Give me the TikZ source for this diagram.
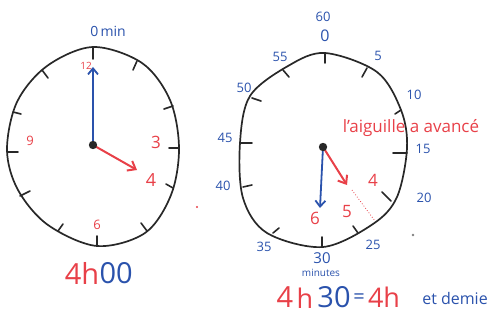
\documentclass[tikz,border=0pt]{standalone}
\usepackage{fontspec}
\setmainfont{Open Sans}
\usetikzlibrary{arrows.meta}
\definecolor{pred}{RGB}{232,64,72}
\definecolor{pblue}{RGB}{42,82,172}
\definecolor{pblack}{RGB}{40,40,40}
\tikzset{
  rim/.style={pblack,line width=1.7pt,line cap=round},
  tick/.style={pblack,line width=1.6pt,line cap=round},
  rlab/.style={text=pred,inner sep=0pt,font=\fontsize{15}{15}\selectfont},
  blab/.style={text=pblue,inner sep=0pt,font=\fontsize{13}{13}\selectfont},
  bluehand/.style={pblue,line width=1.8pt,-{Straight Barb[length=6pt,width=10pt]}},
  redhand/.style={pred,line width=2pt,-{Straight Barb[length=7pt,width=11pt]}},
}
\begin{document}
\begin{tikzpicture}[x=1pt,y=-1pt]
\useasboundingbox (0,0) rectangle (494,320);
% ---------- left clock ----------
\draw[rim] plot[smooth cycle,tension=0.55] coordinates {(93,47) (142,63) (170,100) (179,148) (171,195) (145,233) (97,246) (48,225) (18,190) (7,150) (17,102) (47,66)};
\foreach \a/\b in {{(93,47)}/{(93,59)},{(137,61)}/{(133,70)},{(173,106)}/{(164,109)},{(179,148)}/{(169,148)},{(173,188)}/{(166,184)},{(147,231)}/{(141,223)},{(97,246)}/{(97,236)},{(58,231)}/{(63,224)},{(20,196)}/{(30,191)},{(7,152)}/{(18,152)},{(13,112)}/{(21,114)},{(42,70)}/{(48,78)}}
  \draw[tick] \a -- \b;
\coordinate (c1) at (93,145);
\coordinate (m1) at (93,67);
\coordinate (h1) at (137,170);
\draw[bluehand] (c1) -- (m1);
\draw[redhand] (c1) -- (h1);
\fill[pblack] (c1) circle (4.2);
\node[rlab,font=\fontsize{10}{10}\selectfont] (n12) at (86,66) {12};
\node[rlab,font=\fontsize{17}{17}\selectfont] (n3) at (156,142) {3};
\node[rlab,font=\fontsize{18}{18}\selectfont] (n4) at (151,180) {4};
\node[rlab,font=\fontsize{13}{13}\selectfont] (n6) at (97,225) {6};
\node[rlab,font=\fontsize{13}{13}\selectfont] (n9) at (30,141) {9};
\node[blab,font=\fontsize{14}{14}\selectfont] (omin) at (108,31) {0\,min};
\node[text=pred,inner sep=0pt,font=\fontsize{29}{29}\selectfont] (h4) at (82,273) {4h};
\node[text=pblue,inner sep=0pt,font=\fontsize{29}{29}\selectfont,anchor=west] (z00) at (h4.east) {00};
\fill[pred] (197,207) circle (1.2);
% ---------- right clock ----------
\draw[rim] plot[smooth cycle,tension=0.55] coordinates {(325,53) (377,72) (401,110) (407,148) (397,197) (373,224) (323,247) (267,233) (243,198) (240,143) (250,96) (288,66)};
\foreach \a/\b in {{(325,53)}/{(325,63)},{(367,68)}/{(362,77)},{(401,110)}/{(395,114)},{(407,153)}/{(393,153)},{(391,201)}/{(382,192)},{(358,233)}/{(353,226)},{(322,247)}/{(322,237)},{(273,233)}/{(279,228)},{(243,187)}/{(252,185)},{(240,143)}/{(252,143)},{(252,98)}/{(261,101)},{(283,70)}/{(289,77)}}
  \draw[tick] \a -- \b;
\coordinate (c2) at (323,147);
\coordinate (m2) at (320,208);
\coordinate (h2) at (347,185);
\coordinate (d1) at (352,190);
\coordinate (d2) at (375,221);
\draw[pred,line width=0.8pt,dotted] (d1) -- (d2);
\draw[bluehand] (c2) -- (m2);
\draw[redhand] (c2) -- (h2);
\fill[pblack] (c2) circle (4.2);
\node[blab] (l60) at (323,17) {60};
\node[blab,font=\fontsize{16}{16}\selectfont] (l0) at (325,36) {0};
\node[blab] (l5) at (378,56) {5};
\node[blab] (l10) at (414,95) {10};
\node[blab] (l15) at (423,149) {15};
\node[blab] (l20) at (424,198) {20};
\node[blab] (l25) at (373,245) {25};
\node[blab,font=\fontsize{15}{15}\selectfont] (l30) at (322,258) {30};
\node[blab,font=\fontsize{10}{10}\selectfont] (lmin) at (321,273) {minutes};
\node[blab] (l35) at (264,247) {35};
\node[blab] (l40) at (223,186) {40};
\node[blab] (l45) at (225,138) {45};
\node[blab] (l50) at (244,88) {50};
\node[blab] (l55) at (280,57) {55};
\node[rlab,font=\fontsize{17}{17}\selectfont] (txt) at (411,128) {l'aiguille a avancé};
\node[rlab,font=\fontsize{17}{17}\selectfont] (r4) at (373,180) {4};
\node[rlab,font=\fontsize{17}{17}\selectfont] (r5) at (347,212) {5};
\node[rlab,font=\fontsize{17}{17}\selectfont] (r6) at (315,218) {6};
\fill[gray] (413,235) circle (1.3);
% ---------- bottom equation ----------
\node[text=pred,inner sep=0pt,font=\fontsize{29}{29}\selectfont] (e4) at (285,297) {4};
\node[text=pred,inner sep=0pt,font=\fontsize{27}{27}\selectfont] (eh) at (305,298) {h};
\node[text=pblue,inner sep=0pt,font=\fontsize{29}{29}\selectfont] (e30) at (334,297) {30};
\node[text=pblue,inner sep=0pt,font=\fontsize{20}{20}\selectfont] (eq) at (359,299) {=};
\node[text=pred,inner sep=0pt,font=\fontsize{27}{27}\selectfont] (e4h) at (384,297) {4h};
\node[text=pblue,inner sep=0pt,font=\fontsize{16}{16}\selectfont] (edm) at (455,298) {et demie};
\end{tikzpicture}
\end{document}
